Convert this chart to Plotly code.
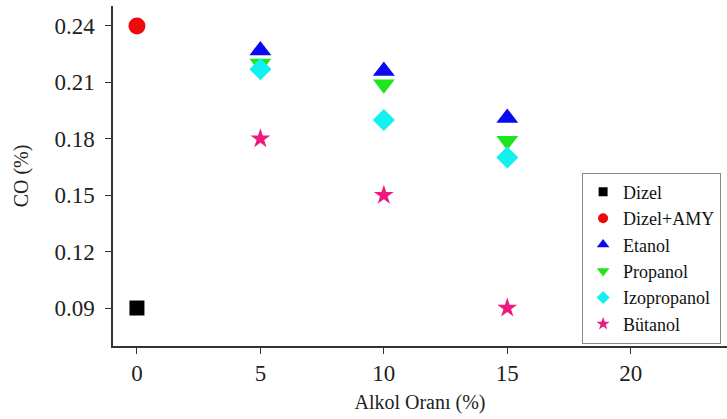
import plotly.graph_objects as go

names = ["Dizel", "Dizel+AMY", "Etanol", "Propanol", "Izopropanol", "Bütanol"]
x_dizel = [0]
y_dizel = [0.09]
x_amy = [0]
y_amy = [0.24]
x_alk = [5, 10, 15]
y_etanol = [0.227, 0.216, 0.191]
y_propanol = [0.220, 0.209, 0.179]
y_izopropanol = [0.217, 0.190, 0.170]
y_butanol = [0.180, 0.150, 0.090]

xs = [x_dizel, x_amy, x_alk, x_alk, x_alk, x_alk]
ys = [y_dizel, y_amy, y_etanol, y_propanol, y_izopropanol, y_butanol]
symbols = ["square", "circle", "triangle-up", "triangle-down", "diamond", "star"]
colors = ["#000000", "#EE0A0A", "#0A0AEE", "#1EE61E", "#12F0F0", "#EE1A80"]
sizes = [15, 17, 19, 19, 17, 15]
legend_sizes = [9, 10, 11, 11, 10, 10]

fig = go.Figure()
for n, x, y, s, c, sz in zip(names, xs, ys, symbols, colors, sizes):
    fig.add_trace(go.Scatter(x=x, y=y, mode="markers", name=n, showlegend=False,
                             legendgroup=n,
                             marker=dict(symbol=s, color=c, size=sz, line=dict(width=0))))
# legend entries with smaller symbols (no data marks)
for n, s, c, sz in zip(names, symbols, colors, legend_sizes):
    fig.add_trace(go.Scatter(x=[None], y=[None], mode="markers", name=n, legendgroup=n,
                             marker=dict(symbol=s, color=c, size=sz, line=dict(width=0))))

font = "Times New Roman, Liberation Serif, serif"
fig.update_layout(
    width=727, height=419,
    margin=dict(l=113, r=0, t=6, b=73, autoexpand=False),
    plot_bgcolor="white", paper_bgcolor="white",
    font=dict(family=font, size=23, color="#222"),
    showlegend=True,
    legend=dict(x=0.764, y=0.51, xanchor="left", yanchor="top",
                bordercolor="#888", borderwidth=1, bgcolor="white",
                font=dict(family=font, size=18, color="#111"),
                tracegroupgap=0, itemwidth=30),
    xaxis=dict(range=[-0.97, 23.9], tickvals=[0, 5, 10, 15, 20], automargin=False,
               showgrid=False, zeroline=False, showline=True, linecolor="#333", linewidth=1.5,
               ticks="outside", ticklen=6, tickcolor="#333",
               title=dict(text="Alkol Oranı (%)", font=dict(size=20), standoff=10)),
    yaxis=dict(range=[0.0698, 0.2506], tickvals=[0.09, 0.12, 0.15, 0.18, 0.21, 0.24],
               tickformat=".2f", ticklabelstandoff=6, automargin=False,
               showgrid=False, zeroline=False, showline=True, linecolor="#333", linewidth=1.5,
               ticks="outside", ticklen=6, tickcolor="#333",
               title=dict(text="CO (%)", font=dict(size=20), standoff=20)),
)
fig.write_html("out.html")
